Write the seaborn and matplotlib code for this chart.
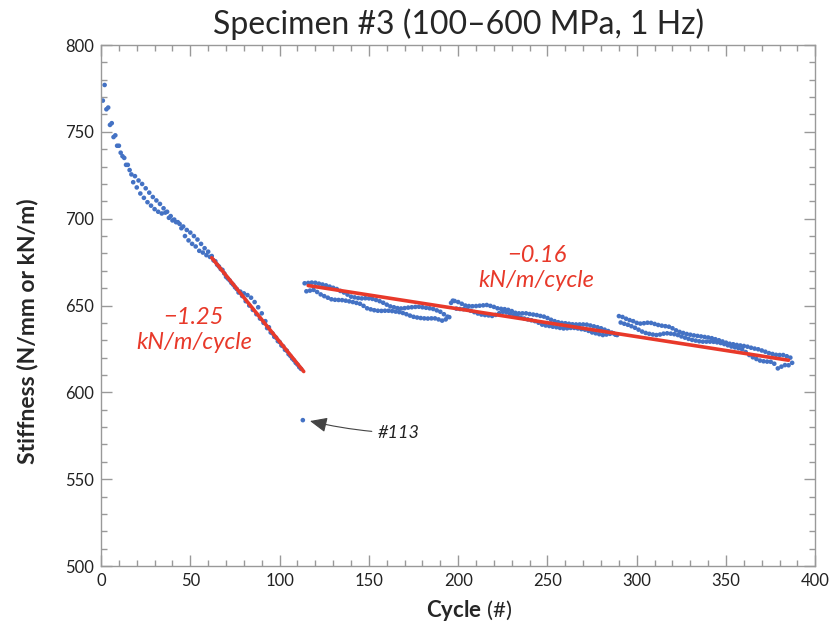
import numpy as np
import pandas as pd
import matplotlib
matplotlib.use("Agg")
import matplotlib.pyplot as plt
from matplotlib.ticker import MultipleLocator
import seaborn as sns

sns.set_theme(style="white")
plt.rcParams['font.family'] = ['Lato', 'DejaVu Sans']
plt.rcParams['mathtext.fontset'] = 'custom'
plt.rcParams['mathtext.rm'] = 'Lato'
plt.rcParams['mathtext.bf'] = 'Lato:bold'

# stiffness per cycle (kN/m)
# first stage, cycles 1..112
seg1_stiff = [
    768, 777, 763, 764, 754, 755, 747, 748, 742, 742,
    738, 736, 735, 731, 731, 728, 725.5, 721, 724.5, 718,
    722, 714.5, 720, 712, 717.5, 709.5, 715, 707.5, 712.5, 705.5,
    710.5, 704, 708.5, 703, 706, 703.5, 704, 700.5, 701.5, 699,
    699.5, 698, 698, 697, 694.5, 695.5, 690, 693.5, 687.5, 692,
    685.5, 690, 684, 688, 681.5, 685.5, 680.5, 683, 679, 681,
    678, 678.5, 676, 675.5, 673.5, 672.5, 671, 670.5, 668.5, 666.5,
    665.5, 664.5, 663, 662, 660.5, 659.5, 657.5, 658, 655.5, 657,
    652.5, 656, 650, 654.5, 647.5, 652, 645, 649, 642.5, 645.5,
    640, 641, 637, 637.5, 634.5, 634, 632, 631.5, 629.5, 629,
    627, 626.5, 624.5, 624, 622, 621, 619.5, 618.5, 617, 616,
    614.5, 613.5,
]
seg1_start = 1

# the odd reading at cycle 113
outlier_cycle = 113
outlier_stiff = 584

# second stage, cycles 114..387
seg2_stiff = [
    662.8, 658.2, 663.0, 658.6, 663.2, 659.0, 663.1, 657.8, 662.6, 656.4,
    662.1, 655.4, 661.6, 654.5, 660.9, 653.6, 660.2, 653.3, 659.5, 653.2,
    658.4, 653.1, 657.5, 652.8, 656.3, 652.4, 655.1, 652.0, 654.7, 651.5,
    654.3, 651.0, 654.1, 649.8, 654.2, 648.4, 654.1, 647.8, 653.8, 647.3,
    653.2, 647.0, 652.5, 646.9, 651.6, 647.0, 650.5, 647.0, 649.5, 646.8,
    649.0, 646.5, 648.5, 646.2, 648.3, 645.7, 648.5, 645.0, 648.8, 644.2,
    649.0, 643.5, 649.2, 643.1, 649.3, 642.8, 649.0, 642.6, 648.7, 642.5,
    648.4, 642.6, 648.0, 642.6, 647.2, 642.0, 646.4, 641.3, 645.0, 642.0,
    643.6, 643.3, 651.5, 652.8, 652.6, 648.2, 652.0, 648.0, 651.0, 647.9,
    650.0, 647.8, 649.7, 647.0, 649.6, 646.2, 649.7, 645.4, 649.9, 644.8,
    650.1, 644.5, 650.3, 644.3, 649.8, 644.0, 649.2, 644.6, 648.4, 645.6,
    648.1, 646.4, 647.9, 646.0, 647.5, 645.3, 646.8, 644.5, 645.8, 643.8,
    645.5, 643.1, 645.5, 642.5, 645.5, 642.0, 645.1, 641.5, 644.8, 641.0,
    644.5, 640.1, 644.0, 639.0, 643.6, 638.5, 642.8, 638.2, 641.8, 637.8,
    641.0, 637.5, 640.4, 637.1, 640.0, 636.8, 639.8, 636.9, 639.5, 637.1,
    639.2, 637.1, 639.1, 636.8, 639.1, 636.4, 639.1, 636.1, 639.0, 635.4,
    638.5, 634.5, 638.0, 634.0, 637.5, 633.5, 636.9, 633.0, 636.1, 633.3,
    635.3, 633.7, 634.4, 634.0, 633.2, 633.0, 643.9, 640.2, 643.4, 639.5,
    642.4, 638.9, 641.6, 638.1, 641.0, 637.2, 640.0, 636.1, 639.6, 635.0,
    639.8, 634.2, 640.1, 633.7, 640.0, 633.3, 639.4, 633.0, 638.8, 633.3,
    638.4, 633.8, 638.1, 634.0, 637.8, 633.8, 636.9, 633.5, 635.7, 633.0,
    634.8, 632.2, 634.2, 631.5, 633.6, 630.8, 633.2, 630.2, 632.8, 629.8,
    632.5, 629.4, 632.2, 629.2, 631.9, 629.2, 631.6, 629.2, 631.2, 629.1,
    630.6, 628.8, 630.0, 628.4, 629.3, 627.8, 628.6, 627.1, 628.0, 626.4,
    627.7, 625.9, 627.3, 625.4, 627.0, 624.8, 626.7, 623.2, 626.3, 621.5,
    625.7, 620.2, 625.2, 619.2, 624.8, 618.3, 624.1, 617.9, 623.4, 617.7,
    622.6, 617.6, 622.1, 616.5, 621.6, 613.8, 621.5, 614.8, 621.5, 615.7,
    620.8, 615.6, 620.0, 617.0,
]
seg2_start = 114

# linear fits (end points of the red lines)
fit1_cycle = [62, 113.5]
fit1_stiff = [677.5, 612.0]
fit2_cycle = [116, 385]
fit2_stiff = [661.5, 618.5]

cycles = np.concatenate([
    np.arange(seg1_start, seg1_start + len(seg1_stiff)),
    [outlier_cycle],
    np.arange(seg2_start, seg2_start + len(seg2_stiff)),
])
stiff = np.concatenate([seg1_stiff, [outlier_stiff], seg2_stiff])
df = pd.DataFrame({"cycle": cycles, "stiffness": stiff})

blue = "#4472C4"
red = "#E8392A"

fig = plt.figure(figsize=(8.33, 6.28), dpi=100)
ax = fig.add_axes([0.1213, 0.0987, 0.8575, 0.8296])

sns.scatterplot(data=df, x="cycle", y="stiffness", ax=ax, s=11,
                color=blue, edgecolor="none", linewidth=0, zorder=2)
sns.lineplot(x=fit1_cycle, y=fit1_stiff, ax=ax, color=red, lw=2.6, zorder=3)
sns.lineplot(x=fit2_cycle, y=fit2_stiff, ax=ax, color=red, lw=2.6, zorder=3)

ax.set_xlim(0, 400)
ax.set_ylim(500, 800)
ax.xaxis.set_major_locator(MultipleLocator(50))
ax.xaxis.set_minor_locator(MultipleLocator(10))
ax.yaxis.set_major_locator(MultipleLocator(50))
ax.yaxis.set_minor_locator(MultipleLocator(10))
ax.tick_params(which="both", direction="in", top=True, right=True,
               bottom=True, left=True, colors="#999999", labelcolor="#222222",
               labelsize=12, pad=5)
ax.tick_params(which="major", length=8, width=1)
ax.tick_params(which="minor", length=4, width=1)
for sp in ax.spines.values():
    sp.set_color("#999999")
    sp.set_linewidth(1)

ax.set_title("Specimen #3 (100–600 MPa, 1 Hz)", fontsize=23, pad=8)
ax.set_xlabel(r"$\bf{Cycle}$ (#)", fontsize=16)
ax.xaxis.set_label_coords(0.515, -0.062)
ax.set_ylabel("Stiffness (N/mm or kN/m)", fontsize=16.5, fontweight="bold")
ax.yaxis.set_label_coords(-0.088, 0.45)

ax.text(52, 636, "−1.25\nkN/m/cycle", color=red, fontsize=17,
        style="italic", ha="center", va="center", linespacing=1.25)
ax.text(244, 671.5, "−0.16\nkN/m/cycle", color=red, fontsize=17,
        style="italic", ha="center", va="center", linespacing=1.25)

ax.annotate("#113", xy=(117, 583.5), xytext=(155, 576.5),
            fontsize=13, style="italic", color="#222222", va="center",
            arrowprops=dict(arrowstyle="-|>,head_length=0.8,head_width=0.35",
                            color="#444444", lw=0.8, shrinkA=2, shrinkB=0,
                            connectionstyle="arc3,rad=-0.05"))

fig.savefig("out.png", dpi=100)
